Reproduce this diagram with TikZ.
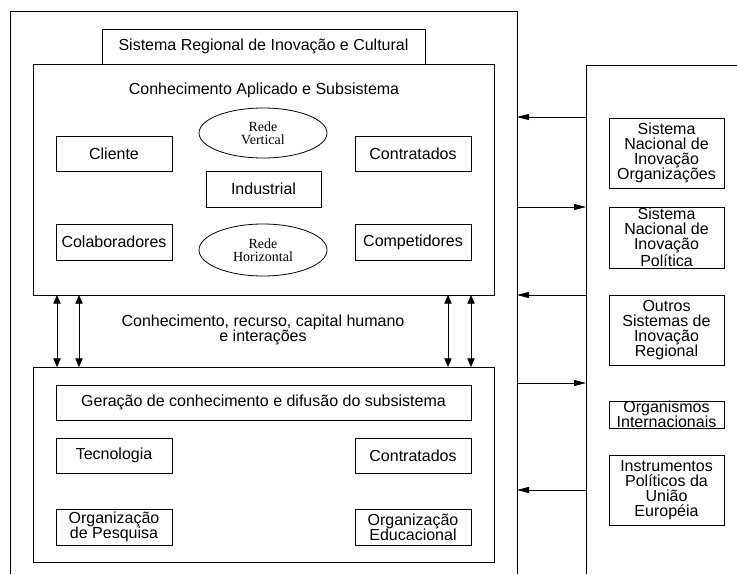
\documentclass[tikz,border=0pt]{standalone}
\usepackage{fontspec}
\setmainfont{Liberation Sans}
\newfontfamily\serifface{Liberation Serif}
\usetikzlibrary{arrows.meta,shapes.geometric}
\begin{document}
\begin{tikzpicture}[x=0.75pt,y=-0.75pt,
 box/.style={draw,line width=0.6pt,inner sep=0pt,align=center,font=\fontsize{12}{11.25}\selectfont},
 ell/.style={draw,ellipse,line width=0.6pt,inner sep=0pt,align=center,minimum width=96pt,font=\serifface\fontsize{10.5}{10}\selectfont},
 txt/.style={inner sep=0pt,align=center,font=\fontsize{12}{11.25}\selectfont},
 frame/.style={line width=0.6pt},
 arr/.style={line width=0.6pt,-{Triangle[length=9pt,width=4.5pt]}},
 darr/.style={line width=0.6pt,{Triangle[length=6.5pt,width=5.5pt]}-{Triangle[length=6.5pt,width=5.5pt]}},
]
\useasboundingbox (0,0) rectangle (737,574);
% outer frames
\coordinate (fbl) at (10,574);
\coordinate (ftl) at (10,11);
\coordinate (ftr) at (517,11);
\coordinate (fbr) at (517,574);
\draw[frame] (fbl) -- (ftl) -- (ftr) -- (fbr);
\coordinate (rtr) at (737,65);
\coordinate (rtl) at (586,65);
\coordinate (rbl) at (586,574);
\draw[frame] (rtr) -- (rtl) -- (rbl);

% title and upper subsystem
\node[box,minimum width=242.25pt,minimum height=26.25pt] (title) at (263.5,46.5) {Sistema Regional de Inova\c{c}\~ao e Cultural};
\node[box,fill=white,minimum width=345.75pt,minimum height=173.25pt] (upper) at (263.5,179.5) {};
\node[txt] (uplab) at (264,90) {Conhecimento Aplicado e Subsistema};
\node[ell,minimum height=37.5pt] (rv) at (263,133) {Rede\\Vertical};
\node[box,minimum width=87pt,minimum height=26.25pt] (cliente) at (114,153.5) {Cliente};
\node[box,minimum width=87pt,minimum height=26.25pt] (contr1) at (413,153.5) {Contratados};
\node[box,minimum width=86.25pt,minimum height=27pt] (indus) at (263.5,189) {Industrial};
\node[box,minimum width=87pt,minimum height=27pt] (colab) at (114,242) {Colaboradores};
\node[box,minimum width=87pt,minimum height=27pt] (compet) at (413,242) {Competidores};
\node[ell,minimum height=39pt] (rh) at (263,250) {Rede\\Horizontal};

% middle
\node[txt] (mid) at (263,330) {Conhecimento, recurso, capital humano\\e intera\c{c}\~oes};

% lower subsystem
\node[box,minimum width=345.75pt,minimum height=146.25pt] (lower) at (263.5,464.5) {};
\node[box,minimum width=311.25pt,minimum height=26.25pt] (gera) at (263.5,402.5) {Gera\c{c}\~ao de conhecimento e difus\~ao do subsistema};
\node[box,minimum width=87pt,minimum height=26.25pt] (tecno) at (114,455.5) {Tecnologia};
\node[box,minimum width=87pt,minimum height=26.25pt] (contr2) at (413,455.5) {Contratados};
\node[box,minimum width=87pt,minimum height=27pt] (orgp) at (114,527) {Organiza\c{c}\~ao\\de Pesquisa};
\node[box,minimum width=87pt,minimum height=27pt] (orge) at (413,527) {Organiza\c{c}\~ao\\Educacional};

% vertical double arrows
\foreach \x/\n in {57/a,79/b,448/c,471/d}{
  \coordinate (\n t) at (\x,295);
  \coordinate (\n b) at (\x,367);
  \draw[darr] (\n t) -- (\n b);
}

% right boxes
\node[box,minimum width=86.25pt,minimum height=52.5pt] (r1) at (666.5,153) {Sistema\\Nacional de\\Inova\c{c}\~ao\\Organiza\c{c}\~oes};
\node[box,minimum width=86.25pt,minimum height=45.75pt] (r2) at (666.5,237.5) {Sistema\\Nacional de\\Inova\c{c}\~ao\\Pol\'itica};
\node[box,minimum width=86.25pt,minimum height=52.5pt] (r3) at (666.5,330) {Outros\\Sistemas de\\Inova\c{c}\~ao\\Regional};
\node[box,minimum width=86.25pt,minimum height=20.25pt] (r4) at (666.5,414.5) {Organismos\\Internacionais};
\node[box,minimum width=86.25pt,minimum height=52.5pt] (r5) at (666.5,490) {Instrumentos\\Pol\'iticos da\\Uni\~ao\\Europ\'eia};

% horizontal arrows between frames
\foreach \y/\n in {117/h1,207/h2,295/h3,383/h4,490/h5}{
  \coordinate (\n o) at (517,\y);
  \coordinate (\n r) at (586,\y);
}
\draw[arr] (h1r) -- (h1o);
\draw[arr] (h2o) -- (h2r);
\draw[arr] (h3r) -- (h3o);
\draw[arr] (h4o) -- (h4r);
\draw[arr] (h5r) -- (h5o);
\end{tikzpicture}
\end{document}
